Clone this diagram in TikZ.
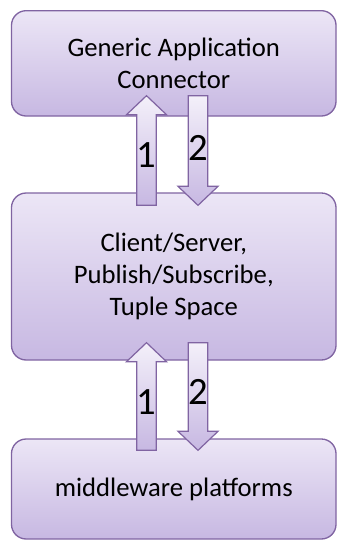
\documentclass[tikz,border=0pt]{standalone}
\usepackage{fontspec}
\setmainfont{Carlito}
\usepackage{tikz}
\usetikzlibrary{calc, positioning}

\definecolor{boxtop}{RGB}{236,230,246}
\definecolor{boxbot}{RGB}{199,184,226}
\definecolor{boxline}{RGB}{128,100,162}

\tikzset{
  layerbox/.style={draw=boxline, line width=1pt, rounded corners=11pt, top color=boxtop, bottom color=boxbot,
    minimum width=243.4pt, inner sep=0pt, align=center, font=\fontsize{20}{24}\selectfont},
  blockarrow/.style={draw=boxline, line width=0.9pt, top color=boxtop!60!white, bottom color=boxbot},
  steplabel/.style={inner sep=0pt, font=\fontsize{29}{30}\selectfont}
}

\def\arrshaft{9.75}
\def\arrhead{20}
\def\arrheadlen{19}
% up arrow: #1 tail, #2 tip
\newcommand{\blockup}[2]{%
  \draw [blockarrow] ($(#1)+(-\arrshaft,0)$) -- ($(#2)+(-\arrshaft,\arrheadlen)$) -- ($(#2)+(-\arrhead,\arrheadlen)$) -- (#2) -- ($(#2)+(\arrhead,\arrheadlen)$) -- ($(#2)+(\arrshaft,\arrheadlen)$) -- ($(#1)+(\arrshaft,0)$) -- cycle ;}
% down arrow: #1 tail, #2 tip
\newcommand{\blockdown}[2]{%
  \draw [blockarrow] ($(#1)+(-\arrshaft,0)$) -- ($(#2)+(-\arrshaft,-\arrheadlen)$) -- ($(#2)+(-\arrhead,-\arrheadlen)$) -- (#2) -- ($(#2)+(\arrhead,-\arrheadlen)$) -- ($(#2)+(\arrshaft,-\arrheadlen)$) -- ($(#1)+(\arrshaft,0)$) -- cycle ;}

\begin{document}
\begin{tikzpicture}[x=0.75pt,y=0.75pt,yscale=-1,xscale=1]
\useasboundingbox (0,0) rectangle (338,540);

%Shape: Rounded Rect [id:generic]
\node [layerbox, minimum height=79pt] (generic) at (173.75,63.35) {Generic Application\\Connector};
%Shape: Rounded Rect [id:styles]
\node [layerbox, minimum height=125.25pt] (styles) at (173.75,276.5) {Client/Server,\\Publish/Subscribe,\\Tuple Space};
%Shape: Rounded Rect [id:platforms]
\node [layerbox, minimum height=75pt] (platforms) at (173.75,489) {middleware platforms};

% arrow ends
\coordinate (upAtail) at ($(styles.north)+(-27.25,13)$);
\coordinate (upAtip) at ($(generic.south)+(-27.25,-21)$);
\coordinate (downAtail) at ($(generic.south)+(24.25,-21)$);
\coordinate (downAtip) at ($(styles.north)+(24.25,13)$);
\coordinate (upBtail) at ($(platforms.north)+(-27.25,12)$);
\coordinate (upBtip) at ($(styles.south)+(-27.25,-18)$);
\coordinate (downBtail) at ($(styles.south)+(24.25,-18)$);
\coordinate (downBtip) at ($(platforms.north)+(24.25,12)$);

%Block Arrows
\blockup{upAtail}{upAtip}
\blockdown{downAtail}{downAtip}
\blockup{upBtail}{upBtip}
\blockdown{downBtail}{downBtip}

% Text Node
\node [steplabel] (oneA) at (146.5,155.5) {1};
% Text Node
\node [steplabel] (twoA) at (198,147.5) {2};
% Text Node
\node [steplabel] (oneB) at (146.5,402.5) {1};
% Text Node
\node [steplabel] (twoB) at (198,391.5) {2};

\end{tikzpicture}
\end{document}
